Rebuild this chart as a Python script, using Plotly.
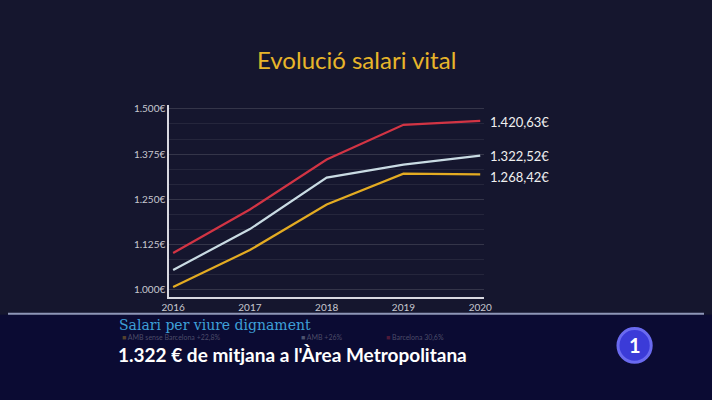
import plotly.graph_objects as go

years = [2016, 2017, 2018, 2019, 2020]
barcelona = [1102, 1222, 1360, 1456, 1467]
amb = [1055, 1168, 1310, 1346, 1371]
amb_sense_bcn = [1008, 1110, 1236, 1321, 1319]
end_labels = ["1.420,63€", "1.322,52€", "1.268,42€"]
tick_vals = [1000, 1125, 1250, 1375, 1500]
tick_text = ["1.000€", "1.125€", "1.250€", "1.375€", "1.500€"]
legend_names = ["AMB sense Barcelona +22,8%", "AMB +26%", "Barcelona 30,6%"]

colors = ["#d23444", "#c9dbe3", "#e3ab22"]
fig = go.Figure()
for ys, c in zip([barcelona, amb, amb_sense_bcn], colors):
    fig.add_trace(go.Scatter(x=years, y=ys, mode="lines", line=dict(color=c, width=2.2), showlegend=False))

W, H = 712, 400
def py(p):
    return (H - p) / H

fig.update_layout(
    width=W, height=H, margin=dict(l=0, r=0, t=0, b=0),
    paper_bgcolor="#15162e", plot_bgcolor="rgba(0,0,0,0)",
    font=dict(family="Lato", color="#e8e8f0"),
    xaxis=dict(range=[2015.95, 2020.05], domain=[165/W, 487/W], tickvals=years,
               showgrid=False, showline=True, linecolor="#d8d8e0", linewidth=2,
               tickfont=dict(size=10, color="#c8c8d0"), ticks="", zeroline=False),
    yaxis=dict(range=[981, 1510], domain=[py(296), py(103)], tickvals=tick_vals, ticktext=tick_text,
               showgrid=True, gridcolor="rgba(255,255,255,0.07)", showline=True, linecolor="#d8d8e0", linewidth=2,
               tickfont=dict(size=10, color="#c8c8d0"), zeroline=False,
               minor=dict(dtick=125/3, tick0=1000, showgrid=True, gridcolor="rgba(255,255,255,0.07)")),
)
def ann(xp, yp, text, size, color, family="Lato", xanchor="center"):
    fig.add_annotation(x=xp/W, y=py(yp), xref="paper", yref="paper", text=text, xanchor=xanchor,
                       yanchor="middle", showarrow=False, font=dict(size=size, color=color, family=family))

ann(356, 57, "Evolució salari vital", 24, "#e8b52a")
for yp, t in zip([120, 154, 175], end_labels):
    ann(491, yp, t, 13, "#f0f0f0", xanchor="left")

fig.add_shape(type="rect", xref="paper", yref="paper", x0=-0.05, x1=1.05, y0=-0.05, y1=py(314),
              fillcolor="#0b0b33", line_width=0, layer="below")
fig.add_shape(type="line", xref="paper", yref="paper", x0=0, x1=1, y0=py(313), y1=py(313),
              line=dict(color="#8e96b8", width=2))
for xp, name, c in zip([115, 298, 385], legend_names, colors[::-1]):
    ann(xp, 337, "<span style='color:%s'>■</span> %s" % (c, name), 7, "rgba(200,200,210,0.35)", xanchor="left")
ann(112, 324, "Salari per viure dignament", 14, "#3ea0d8", family="DejaVu Serif", xanchor="left")
ann(110, 354, "<b>1.322 € de mitjana a l'Àrea Metropolitana</b>", 19, "#ffffff", xanchor="left")
fig.add_shape(type="circle", xref="paper", yref="paper", x0=624/W, x1=658/W, y0=py(362), y1=py(328),
              fillcolor="#3b3bd8", line=dict(color="#6a6af0", width=3))
ann(641, 345, "<b>1</b>", 20, "#ffffff")
fig.write_html("out.html", config={"displayModeBar": False})
with open("out.html") as f:
    s = f.read()
s = s.replace("<head>", "<head><style>body{margin:0;overflow:hidden}</style>", 1)
with open("out.html", "w") as f:
    f.write(s)
